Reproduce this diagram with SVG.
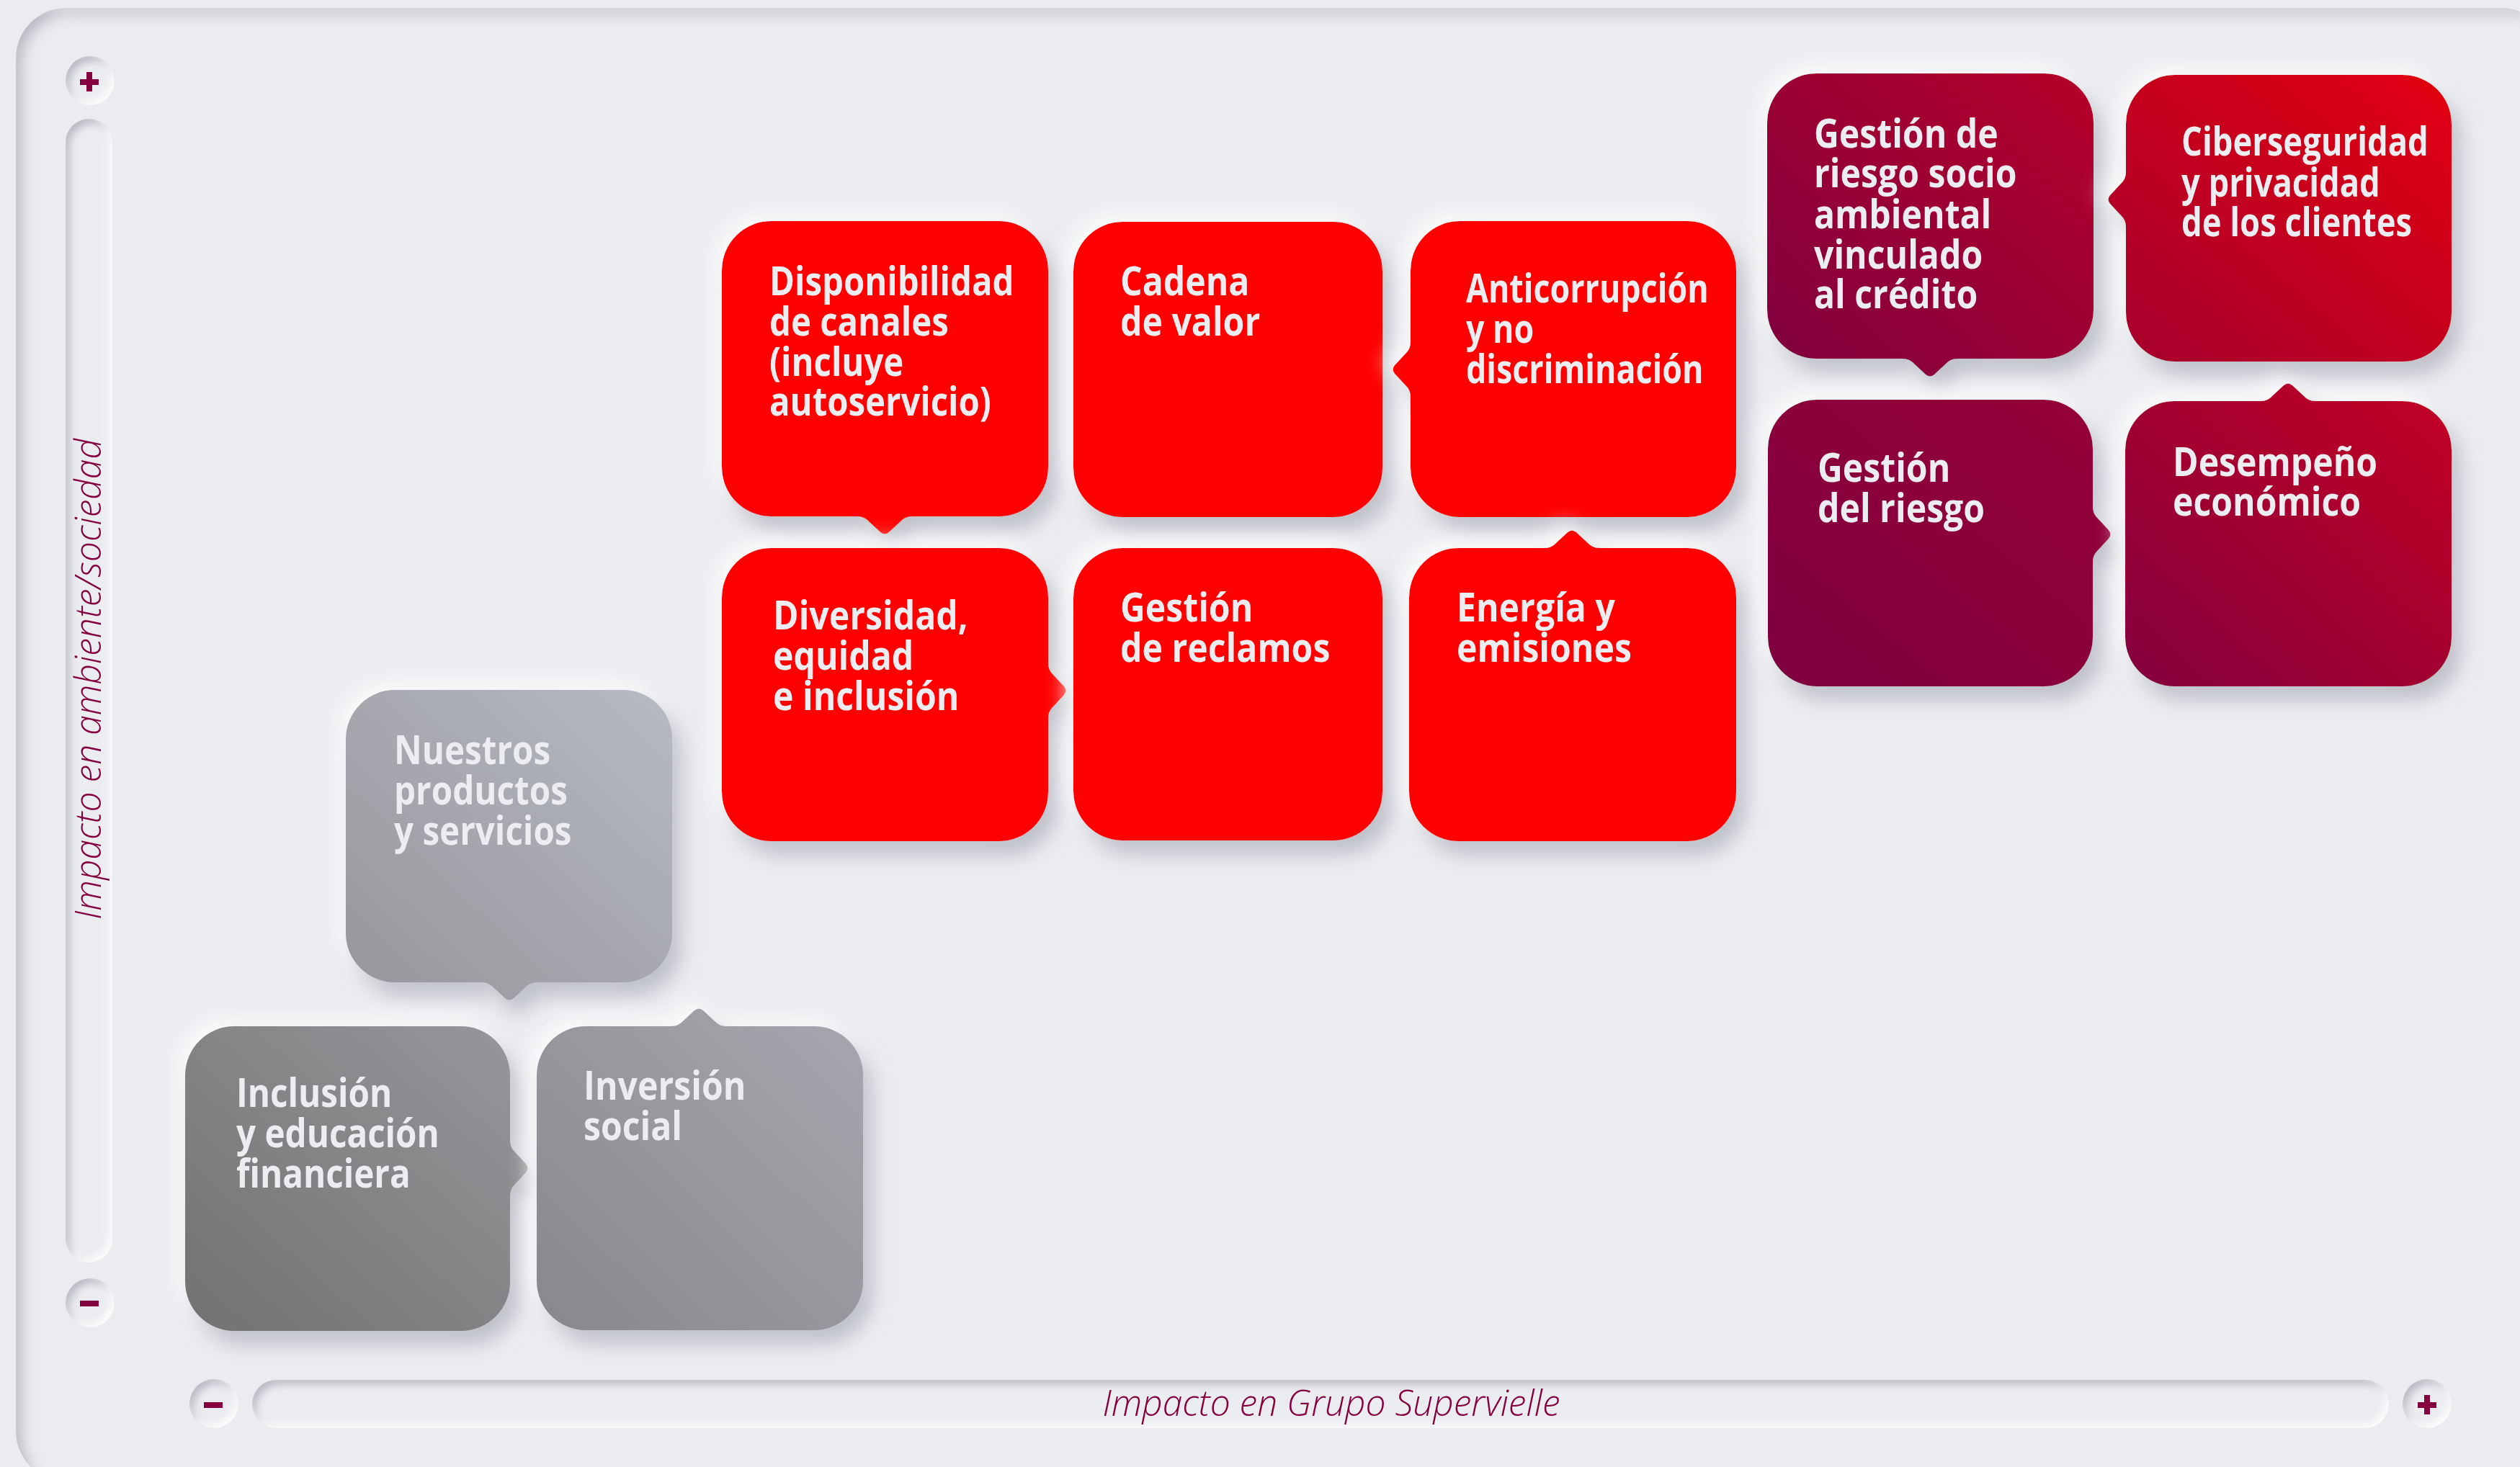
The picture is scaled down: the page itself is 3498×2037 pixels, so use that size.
<svg xmlns="http://www.w3.org/2000/svg" width="3498" height="2037" viewBox="0 0 3498 2037">
<style>
.lbl{font-family:"Open Sans","Noto Sans","Liberation Sans",sans-serif;font-weight:700;font-size:56px;fill:#ecedf1}
.axis{font-family:"Open Sans","Noto Sans","Liberation Sans",sans-serif;font-style:italic;font-weight:300;font-size:50px;fill:#85003f}
.sym{fill:#85003f}
.well{fill:#ebecf0}
.red{fill:#ff0000}
</style>
<defs>
<filter id="neu" x="-20%" y="-20%" width="145%" height="150%">
<feGaussianBlur in="SourceAlpha" stdDeviation="14" result="b"/>
<feOffset in="b" dx="12" dy="18" result="o1"/>
<feFlood flood-color="#9c9eaa" flood-opacity="0.6"/>
<feComposite in2="o1" operator="in" result="dark"/>
<feOffset in="b" dx="-10" dy="-10" result="o2"/>
<feFlood flood-color="#ffffff" flood-opacity="0.9"/>
<feComposite in2="o2" operator="in" result="light"/>
<feMerge><feMergeNode in="light"/><feMergeNode in="dark"/><feMergeNode in="SourceGraphic"/></feMerge>
</filter>
<filter id="inset" x="-60%" y="-60%" width="220%" height="220%">
<feComponentTransfer in="SourceAlpha" result="inv"><feFuncA type="table" tableValues="1 0"/></feComponentTransfer>
<feGaussianBlur in="inv" stdDeviation="6" result="blur"/>
<feOffset in="blur" dx="5" dy="6" result="dOff"/>
<feFlood flood-color="#a4a6b1" flood-opacity="0.85"/>
<feComposite in2="dOff" operator="in"/>
<feComposite in2="SourceAlpha" operator="in" result="darkIn"/>
<feOffset in="blur" dx="-5" dy="-5" result="lOff"/>
<feFlood flood-color="#ffffff" flood-opacity="0.9"/>
<feComposite in2="lOff" operator="in"/>
<feComposite in2="SourceAlpha" operator="in" result="lightIn"/>
<feMerge><feMergeNode in="SourceGraphic"/><feMergeNode in="darkIn"/><feMergeNode in="lightIn"/></feMerge>
</filter>
<filter id="panelInset" filterUnits="userSpaceOnUse" x="0" y="0" width="3498" height="2037">
<feComponentTransfer in="SourceAlpha" result="inv"><feFuncA type="table" tableValues="1 0"/></feComponentTransfer>
<feGaussianBlur in="inv" stdDeviation="10" result="blur"/>
<feOffset in="blur" dx="8" dy="8" result="dOff"/>
<feFlood flood-color="#a8aab4" flood-opacity="0.85"/>
<feComposite in2="dOff" operator="in"/>
<feComposite in2="SourceAlpha" operator="in" result="darkIn"/>
<feMerge><feMergeNode in="SourceGraphic"/><feMergeNode in="darkIn"/></feMerge>
</filter>
<linearGradient id="gInc" x1="0" y1="1" x2="1" y2="0"><stop offset="0" stop-color="#717171"/><stop offset="1" stop-color="#97989c"/></linearGradient>
<linearGradient id="gInv" x1="0" y1="1" x2="1" y2="0"><stop offset="0" stop-color="#87888b"/><stop offset="1" stop-color="#a7a8af"/></linearGradient>
<linearGradient id="gNue" x1="0" y1="1" x2="1" y2="0"><stop offset="0" stop-color="#95969b"/><stop offset="1" stop-color="#b8bac2"/></linearGradient>
<linearGradient id="gSoc" x1="0" y1="1" x2="1" y2="0"><stop offset="0" stop-color="#7f003f"/><stop offset="1" stop-color="#b5002a"/></linearGradient>
<linearGradient id="gCib" x1="0" y1="1" x2="1" y2="0"><stop offset="0" stop-color="#a4002f"/><stop offset="1" stop-color="#e3000f"/></linearGradient>
<linearGradient id="gDel" x1="0" y1="1" x2="1" y2="0"><stop offset="0" stop-color="#7e0040"/><stop offset="1" stop-color="#960036"/></linearGradient>
<linearGradient id="gDes" x1="0" y1="1" x2="1" y2="0"><stop offset="0" stop-color="#83003e"/><stop offset="1" stop-color="#c40023"/></linearGradient>
</defs>

<rect x="0" y="0" width="3498" height="2037" fill="#ebecf0"/>
<g id="panel">
<rect x="22" y="11" width="3520" height="2046" rx="70" ry="70" class="well" filter="url(#panelInset)"/>
</g>

<g id="axis-y">
<circle cx="125" cy="112" r="34" class="well" filter="url(#inset)"/>
<rect x="111" y="110" width="26" height="8" class="sym"/>
<rect x="120" y="100" width="8" height="27" class="sym"/>
<rect x="91" y="165" width="65" height="1588" rx="32.5" ry="32.5" class="well" filter="url(#inset)"/>
<circle cx="125" cy="1809" r="34" class="well" filter="url(#inset)"/>
<rect x="111" y="1806" width="26" height="8" class="sym"/>
<text class="axis" transform="translate(140 943) rotate(-90)" x="0" y="0" text-anchor="middle" textLength="668" lengthAdjust="spacingAndGlyphs">Impacto en ambiente/sociedad</text>
</g>

<g id="axis-x">
<circle cx="297" cy="1949" r="34" class="well" filter="url(#inset)"/>
<rect x="283" y="1947" width="26" height="8" class="sym"/>
<rect x="350" y="1916" width="2966" height="67" rx="33.5" ry="33.5" class="well" filter="url(#inset)"/>
<circle cx="3369" cy="1949" r="34" class="well" filter="url(#inset)"/>
<rect x="3356" y="1947" width="26" height="8" class="sym"/>
<rect x="3365" y="1937" width="8" height="27" class="sym"/>
<text class="axis" x="1848" y="1966" text-anchor="middle" textLength="635" lengthAdjust="spacingAndGlyphs">Impacto en Grupo Supervielle</text>
</g>

<g id="connectors"></g>

<g id="node-disponibilidad">
<path class="red" filter="url(#neu)" d="M1070,307 H1387 A68,68 0 0 1 1455,375 V649 A68,68 0 0 1 1387,717 H1268 C1258,717 1254,720 1248,726 L1234,739 Q1228,744 1222,739 L1208,726 C1202,720 1198,717 1188,717 H1070 A68,68 0 0 1 1002,649 V375 A68,68 0 0 1 1070,307 Z"/>
<g transform="translate(1068 0) scale(0.845 1)"><text class="lbl"><tspan x="0" y="410">Disponibilidad</tspan><tspan x="0" y="466">de canales</tspan><tspan x="0" y="522">(incluye</tspan><tspan x="0" y="577">autoservicio)</tspan></text></g>
</g>

<g id="node-cadena">
<path class="red" filter="url(#neu)" d="M1558,308 H1851 A68,68 0 0 1 1919,376 V650 A68,68 0 0 1 1851,718 H1558 A68,68 0 0 1 1490,650 V376 A68,68 0 0 1 1558,308 Z"/>
<g transform="translate(1555 0) scale(0.86 1)"><text class="lbl"><tspan x="0" y="410">Cadena</tspan><tspan x="0" y="466">de valor</tspan></text></g>
</g>

<g id="node-anticorrupcion">
<path class="red" filter="url(#neu)" d="M2026,307 H2342 A68,68 0 0 1 2410,375 V650 A68,68 0 0 1 2342,718 H2026 A68,68 0 0 1 1958,650 V553 C1958,543 1955,539 1949,533 L1936,519 Q1931,513 1936,507 L1949,493 C1955,487 1958,483 1958,473 V375 A68,68 0 0 1 2026,307 Z"/>
<g transform="translate(2035 0) scale(0.8 1)"><text class="lbl"><tspan x="0" y="420">Anticorrupción</tspan><tspan x="0" y="476">y no</tspan><tspan x="0" y="532">discriminación</tspan></text></g>
</g>

<g id="node-diversidad">
<path class="red" filter="url(#neu)" d="M1070,761 H1387 A68,68 0 0 1 1455,829 V919 C1455,929 1458,933 1464,939 L1477,953 Q1482,959 1477,965 L1464,979 C1458,985 1455,989 1455,999 V1100 A68,68 0 0 1 1387,1168 H1070 A68,68 0 0 1 1002,1100 V829 A68,68 0 0 1 1070,761 Z"/>
<g transform="translate(1073 0) scale(0.86 1)"><text class="lbl"><tspan x="0" y="874">Diversidad,</tspan><tspan x="0" y="930">equidad</tspan><tspan x="0" y="986">e inclusión</tspan></text></g>
</g>

<g id="node-reclamos">
<path class="red" filter="url(#neu)" d="M1558,761 H1851 A68,68 0 0 1 1919,829 V1099 A68,68 0 0 1 1851,1167 H1558 A68,68 0 0 1 1490,1099 V829 A68,68 0 0 1 1558,761 Z"/>
<g transform="translate(1555 0) scale(0.86 1)"><text class="lbl"><tspan x="0" y="863">Gestión</tspan><tspan x="0" y="919">de reclamos</tspan></text></g>
</g>

<g id="node-energia">
<path class="red" filter="url(#neu)" d="M2024,761 H2142 C2152,761 2156,758 2162,752 L2176,739 Q2182,734 2188,739 L2202,752 C2208,758 2212,761 2222,761 H2342 A68,68 0 0 1 2410,829 V1100 A68,68 0 0 1 2342,1168 H2024 A68,68 0 0 1 1956,1100 V829 A68,68 0 0 1 2024,761 Z"/>
<g transform="translate(2022 0) scale(0.86 1)"><text class="lbl"><tspan x="0" y="863">Energía y</tspan><tspan x="0" y="919">emisiones</tspan></text></g>
</g>

<g id="node-riesgo-socioambiental">
<path fill="url(#gSoc)" filter="url(#neu)" d="M2521,102 H2838 A68,68 0 0 1 2906,170 V430 A68,68 0 0 1 2838,498 H2719 C2709,498 2705,501 2699,507 L2685,520 Q2679,525 2673,520 L2659,507 C2653,501 2649,498 2639,498 H2521 A68,68 0 0 1 2453,430 V170 A68,68 0 0 1 2521,102 Z"/>
<g transform="translate(2518 0) scale(0.86 1)"><text class="lbl"><tspan x="0" y="205">Gestión de</tspan><tspan x="0" y="260">riesgo socio</tspan><tspan x="0" y="317">ambiental</tspan><tspan x="0" y="373">vinculado</tspan><tspan x="0" y="428">al crédito</tspan></text></g>
</g>

<g id="node-ciberseguridad">
<path fill="url(#gCib)" filter="url(#neu)" d="M3019,104 H3335 A68,68 0 0 1 3403,172 V434 A68,68 0 0 1 3335,502 H3019 A68,68 0 0 1 2951,434 V317 C2951,307 2948,303 2942,297 L2929,283 Q2924,277 2929,271 L2942,257 C2948,251 2951,247 2951,237 V172 A68,68 0 0 1 3019,104 Z"/>
<g transform="translate(3028 0) scale(0.81 1)"><text class="lbl"><tspan x="0" y="216">Ciberseguridad</tspan><tspan x="0" y="273">y privacidad</tspan><tspan x="0" y="328">de los clientes</tspan></text></g>
</g>

<g id="node-gestion-riesgo">
<path fill="url(#gDel)" filter="url(#neu)" d="M2522,555 H2837 A68,68 0 0 1 2905,623 V702 C2905,712 2908,716 2914,722 L2927,736 Q2932,742 2927,748 L2914,762 C2908,768 2905,772 2905,782 V885 A68,68 0 0 1 2837,953 H2522 A68,68 0 0 1 2454,885 V623 A68,68 0 0 1 2522,555 Z"/>
<g transform="translate(2523 0) scale(0.86 1)"><text class="lbl"><tspan x="0" y="669">Gestión</tspan><tspan x="0" y="725">del riesgo</tspan></text></g>
</g>

<g id="node-desempeno">
<path fill="url(#gDes)" filter="url(#neu)" d="M3018,557 H3136 C3146,557 3150,554 3156,548 L3170,535 Q3176,530 3182,535 L3196,548 C3202,554 3206,557 3216,557 H3335 A68,68 0 0 1 3403,625 V885 A68,68 0 0 1 3335,953 H3018 A68,68 0 0 1 2950,885 V625 A68,68 0 0 1 3018,557 Z"/>
<g transform="translate(3016 0) scale(0.86 1)"><text class="lbl"><tspan x="0" y="661">Desempeño</tspan><tspan x="0" y="716">económico</tspan></text></g>
</g>

<g id="node-productos">
<path fill="url(#gNue)" filter="url(#neu)" d="M548,958 H865 A68,68 0 0 1 933,1026 V1296 A68,68 0 0 1 865,1364 H747 C737,1364 733,1367 727,1373 L713,1386 Q707,1391 701,1386 L687,1373 C681,1367 677,1364 667,1364 H548 A68,68 0 0 1 480,1296 V1026 A68,68 0 0 1 548,958 Z"/>
<g transform="translate(547 0) scale(0.85 1)"><text class="lbl"><tspan x="0" y="1061">Nuestros</tspan><tspan x="0" y="1117">productos</tspan><tspan x="0" y="1173">y servicios</tspan></text></g>
</g>

<g id="node-inclusion">
<path fill="url(#gInc)" filter="url(#neu)" d="M325,1425 H640 A68,68 0 0 1 708,1493 V1582 C708,1592 711,1596 717,1602 L730,1616 Q735,1622 730,1628 L717,1642 C711,1648 708,1652 708,1662 V1780 A68,68 0 0 1 640,1848 H325 A68,68 0 0 1 257,1780 V1493 A68,68 0 0 1 325,1425 Z"/>
<g transform="translate(328 0) scale(0.85 1)"><text class="lbl"><tspan x="0" y="1537">Inclusión</tspan><tspan x="0" y="1593">y educación</tspan><tspan x="0" y="1649">financiera</tspan></text></g>
</g>

<g id="node-inversion">
<path fill="url(#gInv)" filter="url(#neu)" d="M813,1425 H930 C940,1425 944,1422 950,1416 L964,1403 Q970,1398 976,1403 L990,1416 C996,1422 1000,1425 1010,1425 H1130 A68,68 0 0 1 1198,1493 V1779 A68,68 0 0 1 1130,1847 H813 A68,68 0 0 1 745,1779 V1493 A68,68 0 0 1 813,1425 Z"/>
<g transform="translate(810 0) scale(0.86 1)"><text class="lbl"><tspan x="0" y="1527">Inversión</tspan><tspan x="0" y="1583">social</tspan></text></g>
</g>
</svg>
